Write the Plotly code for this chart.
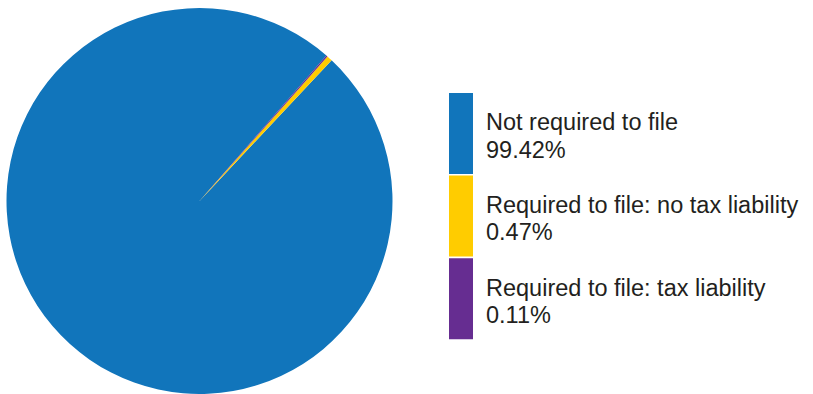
import plotly.graph_objects as go

# ---- data ----
categories = ["Not required to file",
              "Required to file: no tax liability",
              "Required to file: tax liability"]
shares = [99.42, 0.47, 0.11]
pct_labels = ["99.42%", "0.47%", "0.11%"]
colors = ["#1175BB", "#FFCC00", "#662D91"]

W, H = 813, 394
FONT = "Liberation Sans, Arial, Helvetica, sans-serif"
TEXT_COLOR = "#231F20"
FS = 23.5

fig = go.Figure()
fig.add_trace(go.Pie(
    labels=categories,
    values=shares,
    sort=False,
    direction="counterclockwise",
    rotation=43.2,
    marker=dict(colors=colors, line=dict(width=0)),
    textinfo="none",
    hoverinfo="label+percent",
    showlegend=False,
    domain=dict(x=[6.5 / W, 392.5 / W], y=[0, 386 / H]),
))

# ---- custom legend (tall colour bars with two-line labels) ----
def py(px):
    return 1 - px / H

top0 = 93.0
step = 82.6
bar_h = 81.0
shapes = []
annotations = []
for i, (name, pct, col) in enumerate(zip(categories, pct_labels, colors)):
    t = top0 + i * step
    shapes.append(dict(type="rect", xref="paper", yref="paper",
                       x0=449 / W, x1=473 / W, y0=py(t + bar_h), y1=py(t),
                       fillcolor=col, line=dict(width=0), layer="above"))
    annotations.append(dict(text=name, xref="paper", yref="paper",
                            x=484 / W, y=py(t + 29.5), xanchor="left", yanchor="middle",
                            showarrow=False,
                            font=dict(family=FONT, size=FS, color=TEXT_COLOR)))
    annotations.append(dict(text=pct, xref="paper", yref="paper",
                            x=484 / W, y=py(t + 56.5), xanchor="left", yanchor="middle",
                            showarrow=False,
                            font=dict(family=FONT, size=FS, color=TEXT_COLOR)))

fig.update_layout(
    width=W, height=H,
    margin=dict(l=0, r=0, t=0, b=0),
    paper_bgcolor="white",
    plot_bgcolor="white",
    shapes=shapes,
    annotations=annotations,
    font=dict(family=FONT, color=TEXT_COLOR),
)

fig.write_html("out.html",
               config={"displayModeBar": False},
               post_script="document.body.style.margin='0';document.body.style.overflow='hidden';")
